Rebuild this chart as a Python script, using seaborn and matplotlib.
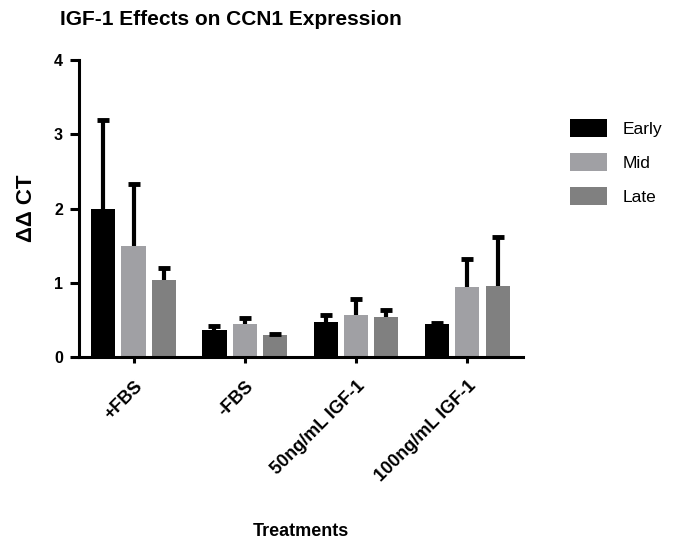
import pandas as pd
import numpy as np
import matplotlib
matplotlib.use('Agg')
import matplotlib.pyplot as plt
import seaborn as sns

# ========== dados ==========
treatments = ['+FBS', '-FBS', '50ng/mL IGF-1', '100ng/mL IGF-1']
phases = ['Early', 'Mid', 'Late']
early_mean = [1.99, 0.36, 0.47, 0.45]
mid_mean = [1.50, 0.44, 0.57, 0.94]
late_mean = [1.04, 0.30, 0.535, 0.95]
early_err = [1.20, 0.06, 0.09, 0.01]
mid_err = [0.83, 0.09, 0.21, 0.38]
late_err = [0.16, 0.01, 0.095, 0.66]
colors = ['#000000', '#a0a0a4', '#808080']

means = {'Early': early_mean, 'Mid': mid_mean, 'Late': late_mean}
errs = {'Early': early_err, 'Mid': mid_err, 'Late': late_err}

df = pd.DataFrame([
    {'treatment': t, 'phase': p, 'value': means[p][i]}
    for p in phases for i, t in enumerate(treatments)
])

# ========== figura ==========
sns.set_style('white')
plt.rcParams['font.family'] = ['Liberation Sans', 'DejaVu Sans']
plt.rcParams['text.color'] = 'black'
plt.rcParams['axes.labelcolor'] = 'black'
plt.rcParams['xtick.color'] = 'black'
plt.rcParams['ytick.color'] = 'black'

fig = plt.figure(figsize=(6.77, 5.43), dpi=100)
ax = fig.add_axes([0.1167, 0.3425, 0.6558, 0.547])

sns.barplot(
    data=df, x='treatment', y='value', hue='phase',
    order=treatments, hue_order=phases, palette=colors,
    errorbar=None, width=0.817, gap=0.2, linewidth=0, ax=ax
)

# barras de erro (só para cima)
for cont, p in zip(ax.containers, phases):
    xs = [b.get_x() + b.get_width() / 2 for b in cont]
    ys = [b.get_height() for b in cont]
    up = errs[p]
    eb = ax.errorbar(xs, ys, yerr=[np.zeros(len(up)), up], fmt='none',
                     ecolor='black', elinewidth=3, capsize=4.5, capthick=3.5, zorder=1)
    eb[1][0].set_visible(False)  # sem cap inferior

ax.set_xlim(-0.49, 3.5)
ax.set_ylim(0, 4)
ax.set_yticks([0, 1, 2, 3, 4])
ax.set_yticklabels(['0', '1', '2', '3', '4'], fontsize=11.5, fontweight='bold')
ax.set_xticks(range(len(treatments)))
ax.set_xticklabels(treatments, rotation=45, ha='right', rotation_mode='anchor',
                   fontsize=13, fontweight='bold')

for s in ['top', 'right']:
    ax.spines[s].set_visible(False)
for s in ['left', 'bottom']:
    ax.spines[s].set_linewidth(2.2)
    ax.spines[s].set_color('black')
ax.tick_params(axis='both', direction='out', length=6.5, width=2.2, color='black',
               left=True, bottom=True)
ax.tick_params(axis='y', pad=5)
ax.tick_params(axis='x', length=4, pad=11)

ax.set_title('IGF-1 Effects on CCN1 Expression', fontsize=15, fontweight='bold',
             x=0.342, y=1.09)
ax.set_ylabel('ΔΔ CT', fontsize=16, fontweight='bold', labelpad=12)
ax.set_xlabel('Treatments', fontsize=13, fontweight='bold')
ax.xaxis.set_label_coords(0.5, -0.56)

leg = ax.legend(title=None, frameon=False, loc='upper left',
                bbox_to_anchor=(1.106, 0.80), fontsize=12.5,
                handlelength=2.1, handleheight=1.15, labelspacing=0.95,
                handletextpad=0.9, borderpad=0, borderaxespad=0)

plt.savefig('out.png', dpi=100)
print('sucesso')
